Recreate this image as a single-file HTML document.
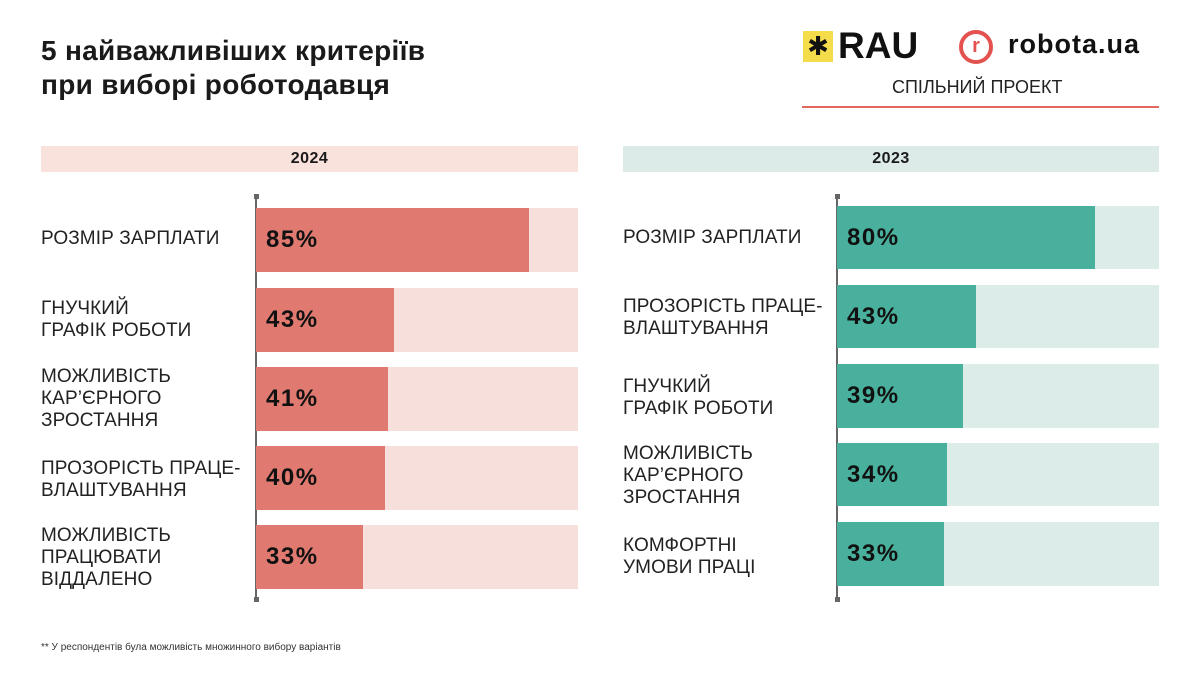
<!DOCTYPE html>
<html><head><meta charset="utf-8"><style>
*{margin:0;padding:0;box-sizing:border-box}
body{width:1200px;height:675px;background:#fff;position:relative;overflow:hidden;font-family:"Liberation Sans","DejaVu Sans",sans-serif;color:#1a1a1a}
.a{position:absolute}
.t{left:41px;top:34px;font-size:28px;font-weight:bold;line-height:34px;letter-spacing:0.3px}
.hd{height:26px;font-size:16px;font-weight:bold;text-align:center;line-height:26px;letter-spacing:0.5px}
.lab{font-size:19px;line-height:22px;letter-spacing:0.1px;color:#222}
.pct{font-size:24px;font-weight:bold;color:#111;line-height:64px;padding-left:10px;letter-spacing:1.5px}
.ax{width:2px;background:#666}
.dot{width:5px;height:5px;background:#666}
</style></head><body>
<div class="a t">5 найважливіших критеріїв<br>при виборі роботодавця</div>
<div class="a" style="left:803px;top:31px;width:30px;height:31px;background:#f5dc4a;color:#111;font-size:26px;line-height:31px;text-align:center">✱</div>
<div class="a" style="left:838px;top:26px;font-size:37px;font-weight:bold;line-height:40px;color:#111">RAU</div>
<div class="a" style="left:959px;top:30px;width:34px;height:34px;border:4px solid #e3524e;border-radius:50%;color:#e3524e;font-weight:bold;font-size:20px;text-align:center;line-height:25px">r</div>
<div class="a" style="left:1008px;top:28px;font-size:27px;font-weight:bold;line-height:32px;color:#111;letter-spacing:1px">robota.ua</div>
<div class="a" style="left:892px;top:76px;font-size:18px;line-height:22px;color:#222">СПІЛЬНИЙ ПРОЕКТ</div>
<div class="a" style="left:802px;top:106px;width:357px;height:2px;background:#e3685f"></div>

<div class="a hd" style="left:41px;top:146px;width:537px;background:#f9e1dc">2024</div>
<div class="a hd" style="left:623px;top:146px;width:536px;background:#dcebe8">2023</div>

<div class="a ax" style="left:255px;top:196px;height:404px"></div>
<div class="a dot" style="left:254px;top:194px"></div><div class="a dot" style="left:254px;top:597px"></div>
<div class="a ax" style="left:836px;top:196px;height:404px"></div>
<div class="a dot" style="left:835px;top:194px"></div><div class="a dot" style="left:835px;top:597px"></div>

<div class="a" style="left:256px;top:208px;width:322px;height:64px;background:#f7e0db"><div class="pct" style="width:273px;height:64px;background:#e07a70">85%</div></div>
<div class="a" style="left:256px;top:288px;width:322px;height:64px;background:#f7e0db"><div class="pct" style="width:138px;height:64px;background:#e07a70">43%</div></div>
<div class="a" style="left:256px;top:367px;width:322px;height:64px;background:#f7e0db"><div class="pct" style="width:132px;height:64px;background:#e07a70">41%</div></div>
<div class="a" style="left:256px;top:446px;width:322px;height:64px;background:#f7e0db"><div class="pct" style="width:129px;height:64px;background:#e07a70">40%</div></div>
<div class="a" style="left:256px;top:525px;width:322px;height:64px;background:#f7e0db"><div class="pct" style="width:107px;height:64px;background:#e07a70">33%</div></div>

<div class="a lab" style="left:41px;top:228px">РОЗМІР ЗАРПЛАТИ</div>
<div class="a lab" style="left:41px;top:298px">ГНУЧКИЙ<br>ГРАФІК РОБОТИ</div>
<div class="a lab" style="left:41px;top:366px">МОЖЛИВІСТЬ<br>КАР’ЄРНОГО<br>ЗРОСТАННЯ</div>
<div class="a lab" style="left:41px;top:458px">ПРОЗОРІСТЬ ПРАЦЕ-<br>ВЛАШТУВАННЯ</div>
<div class="a lab" style="left:41px;top:525px">МОЖЛИВІСТЬ<br>ПРАЦЮВАТИ<br>ВІДДАЛЕНО</div>

<div class="a" style="left:837px;top:206px;width:322px;height:63px;background:#dcece8"><div class="pct" style="width:258px;height:63px;background:#48b09c;line-height:63px">80%</div></div>
<div class="a" style="left:837px;top:285px;width:322px;height:63px;background:#dcece8"><div class="pct" style="width:139px;height:63px;background:#48b09c;line-height:63px">43%</div></div>
<div class="a" style="left:837px;top:364px;width:322px;height:64px;background:#dcece8"><div class="pct" style="width:126px;height:64px;background:#48b09c">39%</div></div>
<div class="a" style="left:837px;top:443px;width:322px;height:63px;background:#dcece8"><div class="pct" style="width:110px;height:63px;background:#48b09c;line-height:63px">34%</div></div>
<div class="a" style="left:837px;top:522px;width:322px;height:64px;background:#dcece8"><div class="pct" style="width:107px;height:64px;background:#48b09c">33%</div></div>

<div class="a lab" style="left:623px;top:227px">РОЗМІР ЗАРПЛАТИ</div>
<div class="a lab" style="left:623px;top:296px">ПРОЗОРІСТЬ ПРАЦЕ-<br>ВЛАШТУВАННЯ</div>
<div class="a lab" style="left:623px;top:376px">ГНУЧКИЙ<br>ГРАФІК РОБОТИ</div>
<div class="a lab" style="left:623px;top:443px">МОЖЛИВІСТЬ<br>КАР’ЄРНОГО<br>ЗРОСТАННЯ</div>
<div class="a lab" style="left:623px;top:535px">КОМФОРТНІ<br>УМОВИ ПРАЦІ</div>

<div class="a" style="left:41px;top:642px;font-size:10px;color:#333">** У респондентів була можливість множинного вибору варіантів</div>
</body></html>
